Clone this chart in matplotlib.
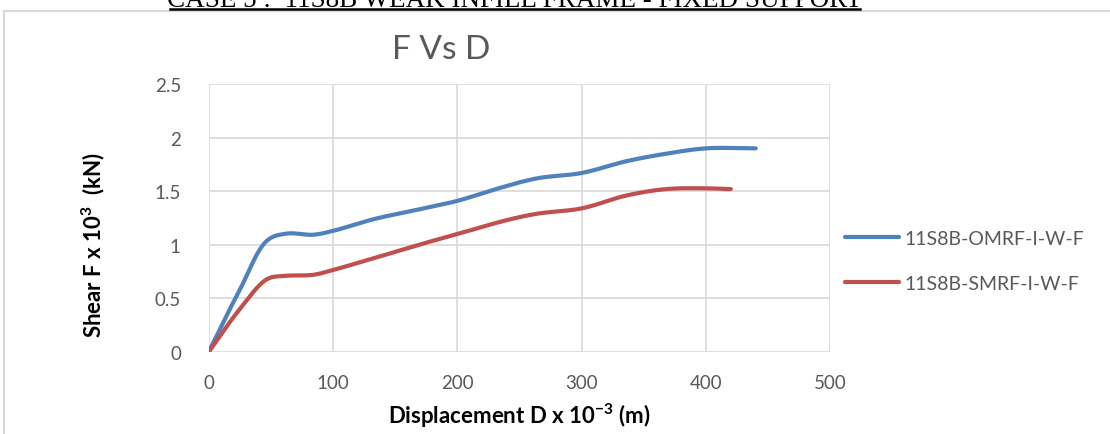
import numpy as np
import matplotlib.pyplot as plt
from matplotlib.patches import Rectangle
from matplotlib.lines import Line2D

# values (displacement x 10^-3 m, shear x 10^3 kN)
omrf_d = [0, 25, 47, 63, 84, 100, 133, 169, 200, 231, 264, 300, 336, 368, 400, 440]
omrf_f = [0, 0.58, 1.04, 1.105, 1.094, 1.13, 1.24, 1.33, 1.41, 1.52, 1.62, 1.67, 1.78, 1.85, 1.90, 1.90]
smrf_d = [0, 25, 47, 61, 84, 100, 140, 169, 200, 238, 264, 300, 336, 368, 400, 420]
smrf_f = [0, 0.40, 0.68, 0.71, 0.72, 0.765, 0.90, 1.0, 1.10, 1.225, 1.29, 1.34, 1.46, 1.52, 1.527, 1.52]

labels = ['11S8B-OMRF-I-W-F', '11S8B-SMRF-I-W-F']
colors = ['#4F81BD', '#C0504D']
x_ticks = [0, 100, 200, 300, 400, 500]
y_ticks = [0, 0.5, 1, 1.5, 2, 2.5]


def smooth(x, y, n=24, sx=1.25, sy=107.0):
    # centripetal catmull-rom, drawn in pixel-ish space so it doesn't overshoot
    P = np.column_stack([np.asarray(x, float) * sx, np.asarray(y, float) * sy])
    P = np.vstack([2 * P[0] - P[1], P, 2 * P[-1] - P[-2]])
    out = []
    for i in range(1, len(P) - 2):
        p0, p1, p2, p3 = P[i - 1], P[i], P[i + 1], P[i + 2]
        t0 = 0.0
        t1 = t0 + np.linalg.norm(p1 - p0) ** 0.5
        t2 = t1 + np.linalg.norm(p2 - p1) ** 0.5
        t3 = t2 + np.linalg.norm(p3 - p2) ** 0.5
        t = np.linspace(t1, t2, n)[:, None]
        a1 = (t1 - t) / (t1 - t0) * p0 + (t - t0) / (t1 - t0) * p1
        a2 = (t2 - t) / (t2 - t1) * p1 + (t - t1) / (t2 - t1) * p2
        a3 = (t3 - t) / (t3 - t2) * p2 + (t - t2) / (t3 - t2) * p3
        b1 = (t2 - t) / (t2 - t0) * a1 + (t - t0) / (t2 - t0) * a2
        b2 = (t3 - t) / (t3 - t1) * a2 + (t - t1) / (t3 - t1) * a3
        c = (t2 - t) / (t2 - t1) * b1 + (t - t1) / (t2 - t1) * b2
        out.append(c)
    out = np.vstack(out)
    return out[:, 0] / sx, out[:, 1] / sy


plt.rcParams['font.family'] = ['Lato', 'DejaVu Sans']
fig = plt.figure(figsize=(11.1, 4.35), dpi=100)
ax = fig.add_axes([0.188, 0.1885, 0.56, 0.616])

for d, f, lab, c in zip([omrf_d, smrf_d], [omrf_f, smrf_f], labels, colors):
    sx, sy = smooth(d, f)
    ax.plot(sx, sy, color=c, lw=3, label=lab, solid_capstyle='round')

ax.set_xlim(0, 500)
ax.set_ylim(0, 2.5)
ax.set_xticks(x_ticks)
ax.set_yticks(y_ticks)
ax.set_yticklabels(['0', '0.5', '1', '1.5', '2', '2.5'])
ax.grid(True, color='#D9D9D9', lw=1.2)
ax.set_axisbelow(True)
for s in ax.spines.values():
    s.set_visible(False)
ax.tick_params(length=0, labelsize=13.5, colors='#595959')
ax.tick_params(axis='y', pad=20)
ax.tick_params(axis='x', pad=16)

fig.text(441 / 1110, 1 - 50 / 435, 'F Vs D', fontsize=24, color='#595959',
         ha='center', va='center')
ax.set_xlabel('Displacement D x 10$^{\\mathregular{-3}}$ (m)', fontsize=16,
              fontweight='bold', labelpad=7)
ax.set_ylabel('Shear F x 10$^{\\mathregular{3}}$  (kN)', fontsize=16,
              fontweight='bold')
ax.yaxis.set_label_coords(-0.163, 0.403)

ax.legend(loc='center left', bbox_to_anchor=(0.996, 0.34), frameon=False,
          fontsize=14, labelcolor='#595959', handlelength=2.75, handletextpad=0.3,
          labelspacing=1.45)

# chart area border
fig.patches.append(Rectangle((4 / 1110, -0.1), 1.2, 1 - 12 / 435 + 0.1,
                             transform=fig.transFigure, fill=False,
                             ec='#D9D9D9', lw=1.5))

# heading cut off at the top of the page crop
fig.text(515 / 1110, 1 - 7 / 435, 'CASE 5 :  11S8B WEAK INFILL FRAME - FIXED SUPPORT',
         ha='center', va='baseline', fontsize=19.5, family='Liberation Serif')
fig.add_artist(Line2D([170 / 1110, 860 / 1110], [1 - 10 / 435] * 2,
                      transform=fig.transFigure, color='black', lw=1.8))

fig.savefig('out.png', dpi=100)
